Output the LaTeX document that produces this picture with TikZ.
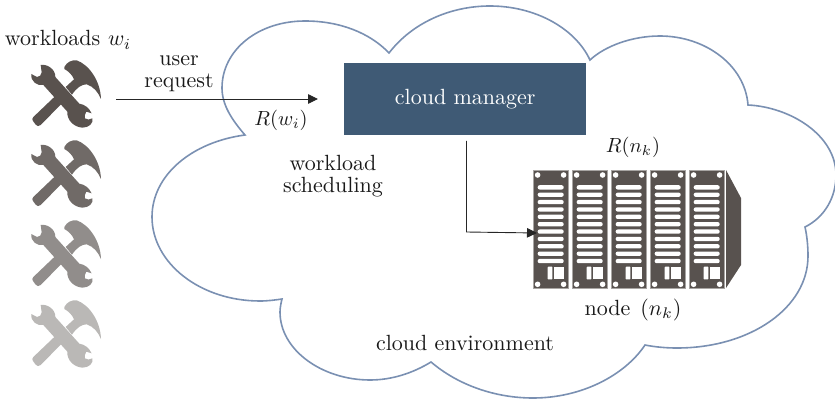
\documentclass[tikz,border=0pt]{standalone}
\usetikzlibrary{arrows.meta}
\definecolor{cloudline}{HTML}{7A90B2}
\definecolor{mgrfill}{HTML}{3F5A75}
\definecolor{rackdark}{HTML}{58524F}
\definecolor{rackedge}{HTML}{A8A5A3}
\definecolor{toolA}{HTML}{59524E}
\definecolor{toolB}{HTML}{706A67}
\definecolor{toolC}{HTML}{918D8B}
\definecolor{toolD}{HTML}{BAB8B6}
\tikzset{
  lbl/.style={scale=2.2,text=black!90,inner sep=0pt,align=center,font=\fontsize{10}{10}\selectfont},
  mathlbl/.style={scale=2.05,text=black!90,inner sep=0pt},
  conn/.style={draw=black!85,line width=0.9pt,-{Triangle[length=10pt,width=9.5pt]}},
  toolicon/.pic={
    \begin{scope}[scale=1/3]
    % hammer handle
    \fill[pic actions] (25,186) -- (90,124) -- (108,148) -- (47,210)
       .. controls (42,215) and (36,214) .. (32,209) -- (24,198)
       .. controls (21,194) and (21,190) .. (25,186) -- cycle;
    % hammer head
    \fill[pic actions] (118,36) .. controls (125,22) and (140,14) .. (155,16)
       .. controls (190,28) and (226,75) .. (228,132)
       .. controls (220,112) and (205,94) .. (185,88)
       .. controls (170,88) and (155,98) .. (141,119)
       -- (122,96) -- (147,73)
       .. controls (142,60) and (130,48) .. (118,42) -- cycle;
    % wrench
    \fill[pic actions] (47,30)
       .. controls (65,26) and (92,42) .. (91,66)
       -- (163,146)
       .. controls (178,148) and (192,158) .. (200,175)
       -- (184,170)
       .. controls (180,176) and (178,184) .. (180,190)
       .. controls (186,195) and (194,195) .. (202,190)
       .. controls (206,205) and (192,218) .. (172,218)
       .. controls (146,216) and (125,195) .. (127,170)
       -- (55,90)
       .. controls (38,94) and (16,80) .. (19,57)
       -- (36,66)
       .. controls (43,66) and (50,60) .. (50,52)
       -- cycle;
    \end{scope}
  },
  rackpanel/.pic={
    \fill[rackdark,draw=rackedge,line width=0.8pt] (0,0) rectangle (35,118);
    \foreach \k in {0,...,10}
      \fill[white,rounded corners=2pt] (4.7,{15.2+7.37*\k}) rectangle (30.7,{19.5+7.37*\k});
    \foreach \hx/\hy in {4.6/5,30.6/5,4.6/114.3,30.6/114.3}
      \fill[white] (\hx,\hy) circle (2.8);
    \fill[white,rounded corners=0.6pt] (14.7,96.7) rectangle (19.4,109.4);
    \fill[white] (21.4,96.7) rectangle (30.6,109.4);
  }
}
\begin{document}
\begin{tikzpicture}[x=1pt,y=-1pt]
\useasboundingbox (0,0) rectangle (835,401);
% cloud
\draw[cloudline,line width=1.6pt,line join=miter] (245,135)
  .. controls (232,120) and (222,105) .. (222,88)
  .. controls (222,50) and (258,21) .. (305,21)
  .. controls (340,21) and (370,33) .. (389,53)
  .. controls (412,23) and (450,6) .. (490,6)
  .. controls (535,6) and (575,28) .. (590,60)
  .. controls (605,46) and (632,36) .. (660,36)
  .. controls (705,36) and (745,65) .. (748,105)
  .. controls (790,107) and (836,135) .. (836,175)
  .. controls (836,197) and (825,217) .. (805,227)
  .. controls (807,236) and (808,246) .. (808,256)
  .. controls (808,308) and (750,348) .. (677,348)
  .. controls (666,348) and (655,347) .. (645,345)
  .. controls (625,375) and (582,398) .. (533,398)
  .. controls (495,398) and (458,385) .. (431,362)
  .. controls (413,373) and (392,380) .. (370,380)
  .. controls (322,380) and (280,350) .. (280,312)
  .. controls (280,308) and (281,303) .. (282,299)
  .. controls (275,300) and (268,301) .. (260,301)
  .. controls (200,301) and (152,263) .. (152,217)
  .. controls (152,175) and (192,142) .. (245,135) -- cycle;
% tools
\pic[fill=toolA] (t1) at (25,55) {toolicon};
\pic[fill=toolB] (t2) at (25,135) {toolicon};
\pic[fill=toolC] (t3) at (25,215) {toolicon};
\pic[fill=toolD] (t4) at (25,295) {toolicon};
% rack
\foreach \n/\px in {1/533,2/572,3/611,4/650,5/689}
  \pic (p\n) at (\px,170) {rackpanel};
\fill[rackdark] (726,170) -- (741,198) -- (741,265) -- (726,288) -- cycle;
% manager
\node[fill=mgrfill,minimum width=242pt,minimum height=72pt,inner sep=0pt,anchor=north west] (mgr) at (344,63) {};
\node[lbl,text=white] (mgrt) at (mgr.center) {cloud manager};
% labels
\node[lbl] (wl) at (68,40) {workloads\hspace{3.5pt}$w_i$};
\node[lbl] (ur) at (179,74) {user\\request};
\node[mathlbl] (rw) at (281,120) {$R(w_i)$};
\node[lbl] (ws) at (333,176) {workload\\scheduling};
\node[mathlbl] (rn) at (633,147) {$R(n_k)$};
\node[lbl] (nd) at (633,310) {node\hspace{4.5pt}$(n_k)$};
\node[lbl] (ce) at (465,343) {cloud environment};
% connectors
\coordinate (reqA) at (116,99);
\coordinate (reqB) at (318,99);
\coordinate (schA) at (466.5,141);
\coordinate (schM) at (466.5,232);
\coordinate (schB) at (537,233);
\draw[conn] (reqA) -- (reqB);
\draw[conn] (schA) -- (schM) -- (schB);
\end{tikzpicture}
\end{document}
